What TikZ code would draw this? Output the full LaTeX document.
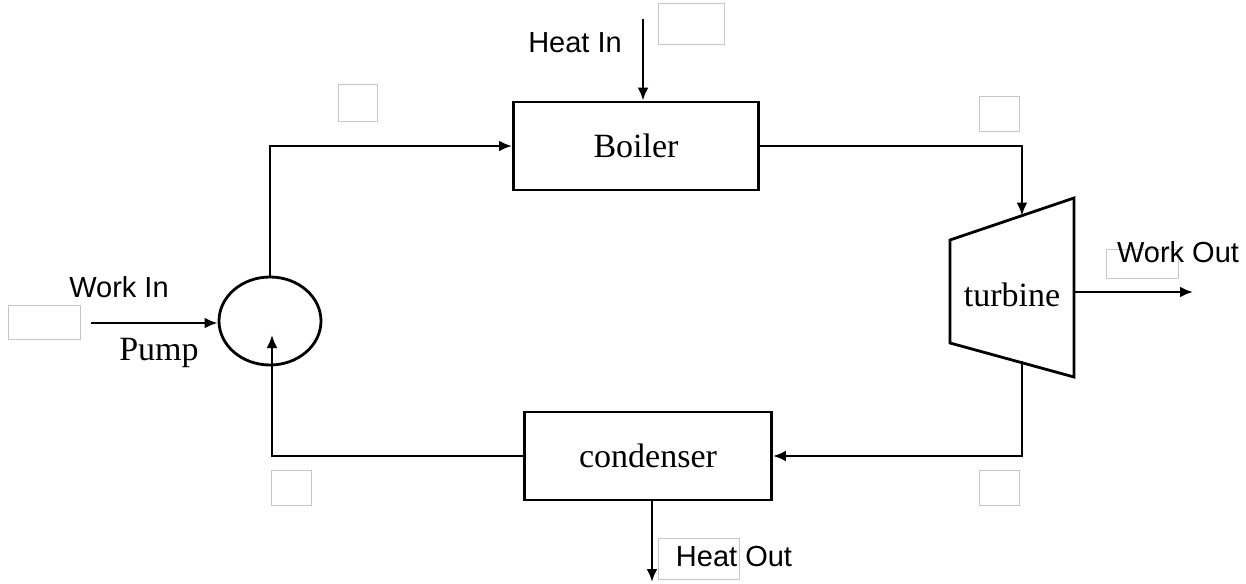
\documentclass[tikz,border=0pt]{standalone}
\usepackage{fontspec}
\setmainfont{Liberation Serif}
\newfontfamily\labelfont{Liberation Sans}
\usepackage{xcolor}
\usetikzlibrary{shapes.geometric,arrows.meta,calc}

\begin{document}
\begin{tikzpicture}[x=0.5pt,y=-0.5pt,
    pipe/.style={line width=1.4pt, line cap=rect},
    flow/.style={pipe, -{Latex[length=6.5pt,width=5.5pt]}},
    unit/.style={draw, line width=1.4pt, inner sep=0pt, font=\fontsize{17}{20}\selectfont},
    tag/.style={inner sep=0pt, font=\labelfont\fontsize{14.5}{17}\selectfont},
    ghost/.style={draw=gray!45, line width=0.5pt}]

    % Khung ảnh
    \useasboundingbox (0,0) rectangle (1246,583);

    % Các ô trống mờ
    \foreach \xa/\ya/\xb/\yb in {658/4/724/45, 338/85/377/121, 979/97/1019/131,
        1106/249/1178/278, 8/305/80/339, 271/470/311/505, 979/470/1019/505, 658/538/739/579}
        \draw[ghost] (\xa,\ya) rectangle (\xb,\yb);

    % Các thiết bị
    \node[unit, minimum width=122.5pt, minimum height=44pt] (boiler) at (636,146) {Boiler};
    \node[unit, minimum width=123.5pt, minimum height=44pt] (condenser) at (648,456) {condenser};
    \node[unit, ellipse, minimum width=51pt, minimum height=44pt] (pump) at (270,321) {};

    % Tuabin (hình thang)
    \coordinate (t1) at (950,240);
    \coordinate (t2) at (1074,198);
    \coordinate (t3) at (1074,377);
    \coordinate (t4) at (950,343);
    \draw[line width=1.4pt, line join=miter] (t1) -- (t2) -- (t3) -- (t4) -- cycle;
    \node[font=\fontsize{17}{20}\selectfont, inner sep=0pt] (turbine) at (1012,295) {turbine};
    \coordinate (tin) at ($(t1)!0.58!(t2)$);
    \coordinate (tout) at ($(t4)!0.58!(t3)$);

    % Điểm đầu/cuối các mũi tên ngoài
    \coordinate (hin) at (643,20);
    \coordinate (hout) at (652,582);
    \coordinate (win) at (92,323);
    \coordinate (wstart) at (1074,292);
    \coordinate (wend) at (1193,292);
    \coordinate (pumpin) at (272,335);

    % Chu trình
    \draw[flow] (pump.north) |- (boiler.west);
    \draw[flow] (boiler.east) -| (tin);
    \draw[flow] (tout) |- (condenser.east);
    \draw[flow] (condenser.west) -| (pumpin);

    % Nhiệt và công
    \draw[flow] (hin) -- (hin |- boiler.north);
    \draw[flow] (hout |- condenser.south) -- (hout);
    \draw[flow] (win) -- (win -| pump.west);
    \draw[flow] (wstart) -- (wend);

    % Nhãn
    \node[tag] (heatin) at (575,43) {Heat In};
    \node[tag] (heatout) at (734,557) {Heat Out};
    \node[tag] (workin) at (119,287) {Work In};
    \node[tag] (workout) at (1178,252) {Work Out};
    \node[font=\fontsize{17}{20}\selectfont, inner sep=0pt] (pumplbl) at (159,353) {Pump};
\end{tikzpicture}
\end{document}
